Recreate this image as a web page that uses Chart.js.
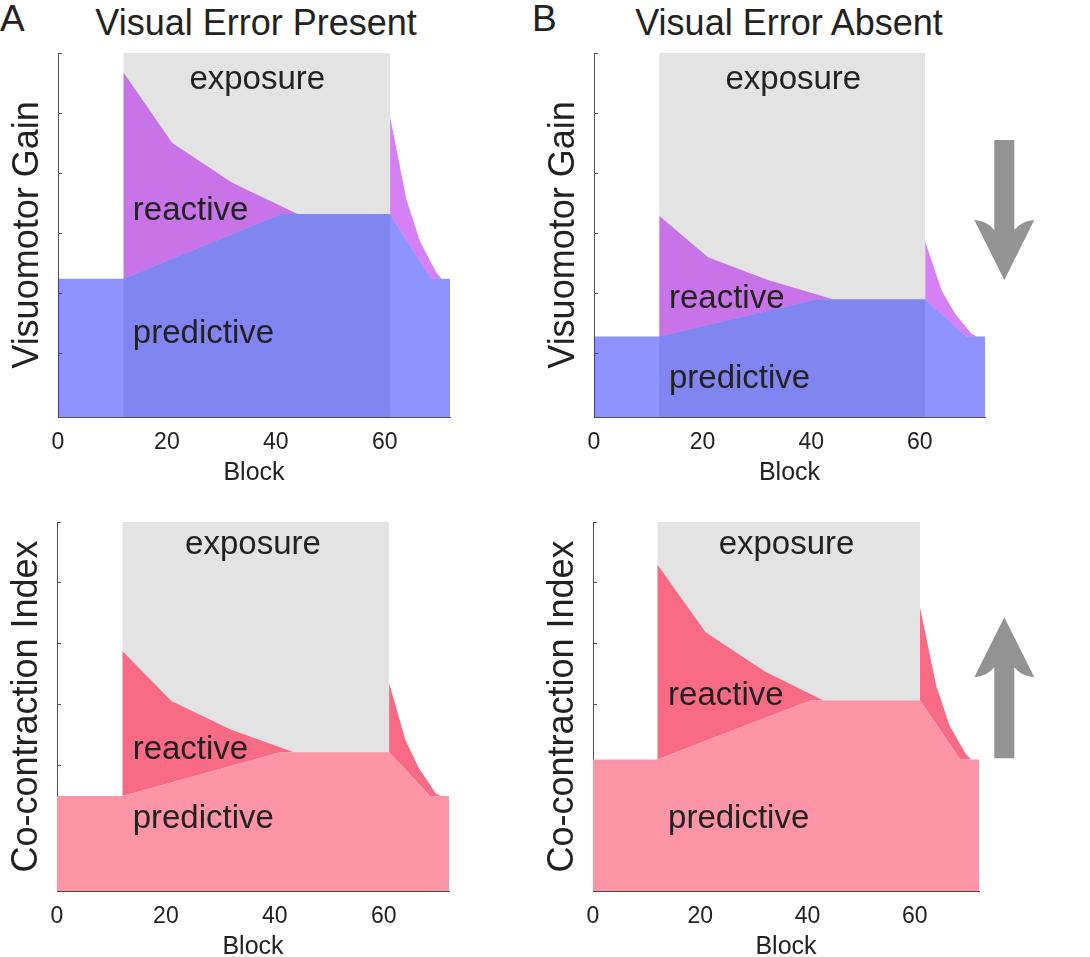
<!DOCTYPE html>
<html><head><meta charset="utf-8">
<script src="https://cdn.jsdelivr.net/npm/chart.js@4.4.1/dist/chart.umd.min.js"></script>
<style>
html,body{margin:0;padding:0;background:#fff;width:1090px;height:957px;overflow:hidden;position:relative;font-family:'Liberation Sans',Arial,Helvetica,sans-serif;color:#222}
canvas{position:absolute}
.t{position:absolute;white-space:nowrap;line-height:1}
.c{text-align:center;width:500px}
</style></head><body>
<div class="t" style="left:0px;top:0px;font-size:37px;">A</div>
<div class="t c" style="left:6px;top:5px;font-size:36px;">Visual Error Present</div>
<div class="t" style="left:532px;top:0px;font-size:37px;">B</div>
<div class="t c" style="left:539px;top:5px;font-size:36px;">Visual Error Absent</div>
<canvas id="ta" width="466" height="449" style="left:2px;top:41px"></canvas>
<canvas id="tb" width="512" height="449" style="left:538px;top:41px"></canvas>
<canvas id="ba" width="466" height="454" style="left:1px;top:510px"></canvas>
<canvas id="bb" width="513" height="454" style="left:537px;top:510px"></canvas>
<script>
// ---- data ----
const blockTicks = [0, 20, 40, 60];
const yTicks = [1, 2, 3, 4, 5, 6];
const exposureX = [12, 61];
const exposureY = [6, 6];

// Visual Error Present – Visuomotor Gain
const gainPresentPredX = [0, 12, 41, 61, 68.5, 72];
const gainPresentPredY = [2.24, 2.24, 3.32, 3.32, 2.24, 2.24];
const gainPresentReactX = [12, 21, 32, 44, 61, 61, 64, 66.5, 69.5, 70.5, 72];
const gainPresentReactY = [5.68, 4.5, 3.84, 3.32, 3.32, 4.94, 3.56, 2.86, 2.34, 2.24, 2.24];

// Visual Error Absent – Visuomotor Gain
const gainAbsentPredX = [0, 12, 41, 61, 68.6, 72];
const gainAbsentPredY = [1.28, 1.28, 1.9, 1.9, 1.28, 1.28];
const gainAbsentReactX = [12, 21, 32, 44, 61, 61, 64, 66.5, 69.5, 70.5, 72];
const gainAbsentReactY = [3.29, 2.6, 2.22, 1.9, 1.9, 2.86, 2.05, 1.66, 1.33, 1.28, 1.28];

// Visual Error Present – Co-contraction Index
const ccPresentPredX = [0, 12, 41, 61, 68.5, 72];
const ccPresentPredY = [1.5, 1.5, 2.22, 2.22, 1.5, 1.5];
const ccPresentReactX = [12, 21, 32, 43.5, 61, 61, 64, 66.5, 69.6, 70.5, 72];
const ccPresentReactY = [3.88, 3.06, 2.59, 2.22, 2.22, 3.36, 2.42, 1.95, 1.54, 1.5, 1.5];

// Visual Error Absent – Co-contraction Index
const ccAbsentPredX = [0, 12, 40.5, 61, 68.5, 72];
const ccAbsentPredY = [2.1, 2.1, 3.07, 3.07, 2.1, 2.1];
const ccAbsentReactX = [12, 21, 32, 43, 61, 61, 64, 66.5, 69.5, 70.5, 72];
const ccAbsentReactY = [5.3, 4.19, 3.55, 3.07, 3.07, 4.6, 3.32, 2.66, 2.2, 2.1, 2.1];

// ---- drawing ----
const FONT = "'Liberation Sans', Arial, Helvetica, sans-serif";
const TEXT = '#222';
const AXIS = '#4d4d4d';

function pts(xs, ys) { return xs.map((x, i) => ({x: x, y: ys[i]})); }

function drawArrow(ctx, a) {
  const s = Math.sign(a.tip - a.tail);
  const corner = a.tip - s * 60, notch = a.tip - s * 50;
  const cx = a.cx;
  ctx.beginPath();
  ctx.moveTo(cx - 10, a.tail);
  ctx.lineTo(cx - 10, notch);
  ctx.quadraticCurveTo(cx - 17, corner + s * 1, cx - 30, corner);
  ctx.lineTo(cx, a.tip);
  ctx.lineTo(cx + 30, corner);
  ctx.quadraticCurveTo(cx + 17, corner + s * 1, cx + 10, notch);
  ctx.lineTo(cx + 10, a.tail);
  ctx.closePath();
  ctx.fillStyle = '#939393';
  ctx.fill();
}

const areaLabels = {
  id: 'areaLabels',
  afterDatasetsDraw(chart, args, opts) {
    const {ctx} = chart;
    const xs = chart.scales.x, ys = chart.scales.y;
    ctx.save();
    ctx.font = '33px ' + FONT;
    ctx.fillStyle = TEXT;
    ctx.textBaseline = 'alphabetic';
    for (const l of opts.items) {
      ctx.textAlign = l.align;
      ctx.fillText(l.text, xs.getPixelForValue(l.x), ys.getPixelForValue(l.y));
    }
    if (opts.arrow) drawArrow(ctx, opts.arrow);
    ctx.restore();
  }
};

function makeChart(id, c) {
  const gridCfg = {display: true, drawOnChartArea: false, drawTicks: true, tickLength: -4, color: AXIS, lineWidth: 1};
  const borderCfg = {display: true, color: AXIS, width: 1};
  return new Chart(document.getElementById(id), {
    type: 'line',
    data: {
      datasets: [
        {label: 'exposure', data: pts(exposureX, exposureY), backgroundColor: '#e3e3e3', fill: 'start', order: 3},
        {label: 'predictive', data: pts(c.predX, c.predY), backgroundColor: c.predColor, fill: 'start', order: 1},
        {label: 'reactive', data: pts(c.reactX, c.reactY), backgroundColor: c.reactColor, fill: 1, order: 2}
      ]
    },
    options: {
      responsive: false, animation: false, devicePixelRatio: 1,
      layout: {padding: {left: 0, top: 12, right: c.padRight, bottom: 0}},
      elements: {point: {radius: 0, hoverRadius: 0}, line: {borderWidth: 0, borderColor: 'rgba(0,0,0,0)', tension: 0}},
      plugins: {
        legend: {display: false}, tooltip: {enabled: false},
        areaLabels: {items: c.labels, arrow: c.arrow}
      },
      scales: {
        x: {
          type: 'linear', min: 0, max: 72,
          afterBuildTicks: s => { s.ticks = blockTicks.map(v => ({value: v})); },
          afterFit: s => { s.height = 73; },
          ticks: {font: {family: FONT, size: 23}, color: TEXT, padding: 16, maxRotation: 0, autoSkip: false},
          grid: gridCfg, border: borderCfg,
          title: {display: true, text: 'Block', font: {family: FONT, size: 25}, color: TEXT, padding: {top: 0, bottom: 2}}
        },
        y: {
          type: 'linear', min: -0.06, max: 6,
          afterBuildTicks: s => { s.ticks = yTicks.map(v => ({value: v})); },
          afterFit: s => { s.width = 56; },
          ticks: {display: false},
          grid: gridCfg, border: borderCfg,
          title: {display: true, text: c.yTitle, font: {family: FONT, size: 36}, color: TEXT, padding: {top: 4, bottom: 0}}
        }
      }
    },
    plugins: [areaLabels]
  });
}

const blueP = 'rgba(31,39,255,0.5)', purpleR = 'rgba(178,24,237,0.55)';
const pinkP = '#fe95a7', redR = '#f96b85';

makeChart('ta', {
  predX: gainPresentPredX, predY: gainPresentPredY, reactX: gainPresentReactX, reactY: gainPresentReactY,
  predColor: blueP, reactColor: purpleR, yTitle: 'Visuomotor Gain', padRight: 18,
  labels: [
    {text: 'exposure', x: 36.6, y: 5.4, align: 'center'},
    {text: 'reactive', x: 13.75, y: 3.22, align: 'left'},
    {text: 'predictive', x: 13.75, y: 1.17, align: 'left'}
  ]
});
makeChart('tb', {
  predX: gainAbsentPredX, predY: gainAbsentPredY, reactX: gainAbsentReactX, reactY: gainAbsentReactY,
  predColor: blueP, reactColor: purpleR, yTitle: 'Visuomotor Gain', padRight: 65,
  labels: [
    {text: 'exposure', x: 36.7, y: 5.4, align: 'center'},
    {text: 'reactive', x: 13.8, y: 1.75, align: 'left'},
    {text: 'predictive', x: 13.8, y: 0.43, align: 'left'}
  ],
  arrow: {cx: 1004.3 - 538, tail: 140 - 41, tip: 280 - 41}
});
makeChart('ba', {
  predX: ccPresentPredX, predY: ccPresentPredY, reactX: ccPresentReactX, reactY: ccPresentReactY,
  predColor: pinkP, reactColor: redR, yTitle: 'Co-contraction Index', padRight: 18,
  labels: [
    {text: 'exposure', x: 36, y: 5.48, align: 'center'},
    {text: 'reactive', x: 13.9, y: 2.11, align: 'left'},
    {text: 'predictive', x: 13.9, y: 0.97, align: 'left'}
  ]
});
makeChart('bb', {
  predX: ccAbsentPredX, predY: ccAbsentPredY, reactX: ccAbsentReactX, reactY: ccAbsentReactY,
  predColor: pinkP, reactColor: redR, yTitle: 'Co-contraction Index', padRight: 71,
  labels: [
    {text: 'exposure', x: 36.1, y: 5.48, align: 'center'},
    {text: 'reactive', x: 14, y: 3.0, align: 'left'},
    {text: 'predictive', x: 14, y: 0.97, align: 'left'}
  ],
  arrow: {cx: 1004.3 - 537, tail: 758.3 - 510, tip: 617.3 - 510}
});
</script>
</body></html>
